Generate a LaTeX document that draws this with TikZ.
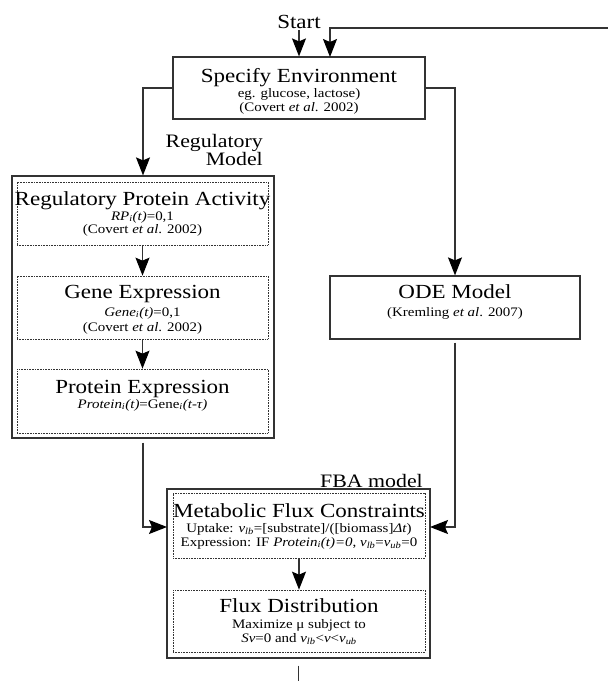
\documentclass[tikz,border=0pt]{standalone}
\usepackage{fontspec}
\setmainfont{Liberation Serif}[FakeStretch=1.15]
\usetikzlibrary{arrows.meta}
\tikzset{
  box/.style={draw=black!80, line width=1.2pt, inner sep=0pt},
  dbox/.style={draw=black!80, line width=0.7pt, dash pattern=on 0.8pt off 0.8pt, inner sep=0pt},
  conn/.style={draw=black!80, line width=1.2pt},
  arr/.style={conn, arrows={-Stealth[length=18pt,width=14pt,inset=3pt,black]}},
  ttl/.style={font=\fontsize{20}{22}\selectfont, anchor=base, inner sep=0pt},
  sub/.style={font=\fontsize{13}{14}\selectfont, anchor=base, inner sep=0pt},
  lbl/.style={font=\fontsize{19}{20}\selectfont, anchor=base east, inner sep=0pt}
}
\begin{document}
\begin{tikzpicture}[x=1pt,y=-1pt]
\useasboundingbox (0,0) rectangle (608,681);
% boxes
\node[box, minimum width=252pt, minimum height=62pt] (env) at (299,88) {};
\node[box, minimum width=262pt, minimum height=262pt] (reg) at (143,307) {};
\node[dbox, minimum width=251pt, minimum height=63pt] (rpa) at (142.5,213.5) {};
\node[dbox, minimum width=251pt, minimum height=63pt] (gene) at (142.5,307.5) {};
\node[dbox, minimum width=251pt, minimum height=64pt] (prot) at (142.5,401) {};
\node[box, minimum width=250pt, minimum height=63pt] (ode) at (455,307.5) {};
\node[box, minimum width=263pt, minimum height=169pt] (fba) at (298.5,573.5) {};
\node[dbox, minimum width=252pt, minimum height=65pt] (mfc) at (299,525.5) {};
\node[dbox, minimum width=252pt, minimum height=62pt] (flux) at (299,621) {};
% texts
\node[ttl] (start) at (299,28) {Start};
\node[ttl] (envT) at (299,82) {Specify Environment};
\node[sub] (envS1) at (299,97.5) {eg. glucose, lactose)};
\node[sub] (envS2) at (299,111.5) {(Covert \textit{et al}. 2002)};
\node[lbl] (regL1) at (263,147) {Regulatory};
\node[lbl] (regL2) at (263,165) {Model};
\node[ttl] (rpaT) at (142.5,205) {Regulatory Protein Activity};
\node[sub] (rpaS1) at (142.5,220) {\textit{RP\textsubscript{i}(t)}=0,1};
\node[sub] (rpaS2) at (142.5,233) {(Covert \textit{et al}. 2002)};
\node[ttl] (geneT) at (142.5,298) {Gene Expression};
\node[sub] (geneS1) at (142.5,316) {\textit{Gene\textsubscript{i}(t)}=0,1};
\node[sub] (geneS2) at (142.5,331) {(Covert \textit{et al}. 2002)};
\node[ttl] (protT) at (142.5,393) {Protein Expression};
\node[sub] (protS1) at (142.5,408) {\textit{Protein\textsubscript{i}(t)}=Gene\textsubscript{\textit{i}}\textit{(t-τ)}};
\node[ttl] (odeT) at (455,298) {ODE Model};
\node[sub] (odeS1) at (455,316) {(Kremling \textit{et al}. 2007)};
\node[lbl] (fbaL) at (423,487) {FBA model};
\node[ttl] (mfcT) at (299,517) {Metabolic Flux Constraints};
\node[sub] (mfcS1) at (299,532) {Uptake: \textit{v\textsubscript{lb}}=[substrate]/([biomass]\textit{Δt})};
\node[sub] (mfcS2) at (299,546) {Expression: IF \textit{Protein\textsubscript{i}(t)=0}, \textit{v\textsubscript{lb}}=\textit{v\textsubscript{ub}}=0};
\node[ttl] (fluxT) at (299,612) {Flux Distribution};
\node[sub] (fluxS1) at (299,628) {Maximize μ subject to};
\node[sub] (fluxS2) at (299,642) {\textit{Sv}=0 and \textit{v\textsubscript{lb}}<\textit{v}<\textit{v\textsubscript{ub}}};
% coordinates
\coordinate (loopR) at (608,28);
\coordinate (envIn) at (330,57);
\coordinate (fbaInL) at (167,527);
\coordinate (fbaInR) at (430,527);
\coordinate (bottomEnd) at (298.5,681);
% connectors
\draw[arr, shorten <=2pt] (start.south) -- (env.north);
\draw[arr] (loopR) -| (envIn);
\draw[arr] (env.west) -| (reg.north);
\draw[arr] (env.east) -| (ode.north);
\draw[arr] (rpa.south) -- (gene.north);
\draw[arr] (gene.south) -- (prot.north);
\draw[arr, shorten <=4pt] (reg.south) |- (fbaInL);
\draw[arr, shorten <=3pt] (ode.south) |- (fbaInR);
\draw[arr] (mfc.south) -- (flux.north);
\draw[conn, shorten <=7pt] (fba.south) -- (bottomEnd);
\end{tikzpicture}
\end{document}
